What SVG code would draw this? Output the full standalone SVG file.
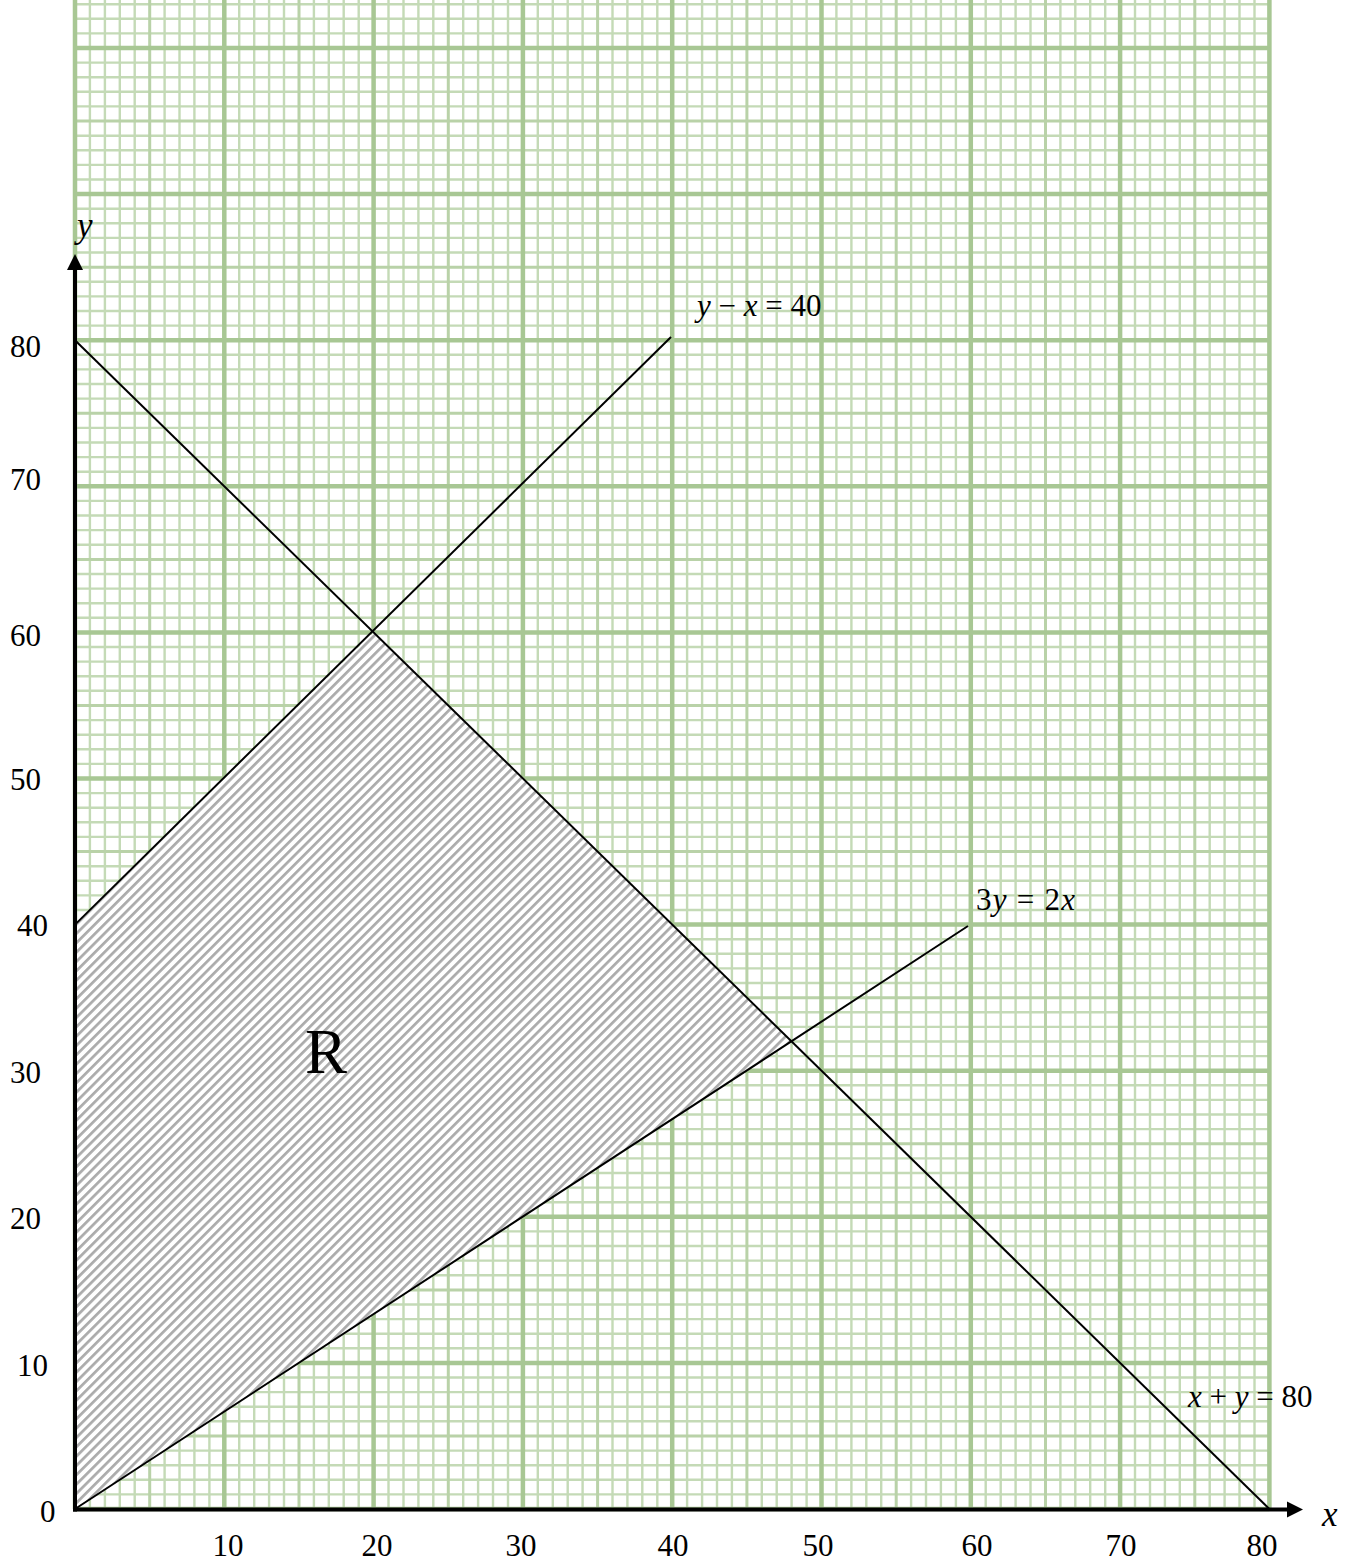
<svg xmlns="http://www.w3.org/2000/svg" width="1361" height="1564" viewBox="0 0 1361 1564">
<style>
.minor{stroke:#c4dab6;stroke-width:2.4;fill:none}
.medium{stroke:#b9d2a8;stroke-width:3;fill:none}
.major{stroke:#a8c794;stroke-width:4.5;fill:none}
.ln{stroke:#000;stroke-width:2;fill:none}
.ax{stroke:#000;stroke-width:4;fill:none}
.t{font-family:"Liberation Serif","Times New Roman",serif;font-size:31px;fill:#000}
.lab{font-family:"Liberation Serif","Times New Roman",serif;font-size:31px;fill:#000}
.v{font-family:"Liberation Serif","Times New Roman",serif;font-size:35px;font-style:italic;fill:#000}
.i{font-style:italic}
</style>
<defs>
<pattern id="hatch" patternUnits="userSpaceOnUse" width="6.6" height="10" patternTransform="rotate(45)">
<rect width="2.7" height="10" fill="#ababab"/>
</pattern>
</defs>
<rect width="1361" height="1564" fill="#fff"/>
<g id="grid">
<path class="minor" d="M89.9 0V1509M104.9 0V1509M119.8 0V1509M134.7 0V1509M164.6 0V1509M179.5 0V1509M194.4 0V1509M209.4 0V1509M239.2 0V1509M254.2 0V1509M269.1 0V1509M284 0V1509M313.9 0V1509M328.8 0V1509M343.7 0V1509M358.7 0V1509M388.5 0V1509M403.5 0V1509M418.4 0V1509M433.3 0V1509M463.2 0V1509M478.1 0V1509M493 0V1509M508 0V1509M537.8 0V1509M552.8 0V1509M567.7 0V1509M582.6 0V1509M612.5 0V1509M627.4 0V1509M642.3 0V1509M657.3 0V1509M687.1 0V1509M702.1 0V1509M717 0V1509M731.9 0V1509M761.8 0V1509M776.7 0V1509M791.6 0V1509M806.6 0V1509M836.4 0V1509M851.4 0V1509M866.3 0V1509M881.2 0V1509M911.1 0V1509M926 0V1509M940.9 0V1509M955.9 0V1509M985.7 0V1509M1000.7 0V1509M1015.6 0V1509M1030.5 0V1509M1060.4 0V1509M1075.3 0V1509M1090.2 0V1509M1105.2 0V1509M1135 0V1509M1150 0V1509M1164.9 0V1509M1179.8 0V1509M1209.7 0V1509M1224.6 0V1509M1239.5 0V1509M1254.5 0V1509"/>
<path class="minor" d="M75 1494.4H1269.4M75 1479.8H1269.4M75 1465.2H1269.4M75 1450.6H1269.4M75 1421.3H1269.4M75 1406.7H1269.4M75 1392.1H1269.4M75 1377.5H1269.4M75 1348.3H1269.4M75 1333.7H1269.4M75 1319.1H1269.4M75 1304.5H1269.4M75 1275.2H1269.4M75 1260.6H1269.4M75 1246H1269.4M75 1231.4H1269.4M75 1202.2H1269.4M75 1187.6H1269.4M75 1173H1269.4M75 1158.4H1269.4M75 1129.1H1269.4M75 1114.5H1269.4M75 1099.9H1269.4M75 1085.3H1269.4M75 1056.1H1269.4M75 1041.5H1269.4M75 1026.9H1269.4M75 1012.3H1269.4M75 983H1269.4M75 968.4H1269.4M75 953.8H1269.4M75 939.2H1269.4M75 910H1269.4M75 895.4H1269.4M75 880.8H1269.4M75 866.2H1269.4M75 836.9H1269.4M75 822.3H1269.4M75 807.7H1269.4M75 793.1H1269.4M75 763.9H1269.4M75 749.3H1269.4M75 734.7H1269.4M75 720.1H1269.4M75 690.8H1269.4M75 676.2H1269.4M75 661.6H1269.4M75 647H1269.4M75 617.8H1269.4M75 603.2H1269.4M75 588.6H1269.4M75 574H1269.4M75 544.7H1269.4M75 530.1H1269.4M75 515.5H1269.4M75 500.9H1269.4M75 471.7H1269.4M75 457.1H1269.4M75 442.5H1269.4M75 427.9H1269.4M75 398.6H1269.4M75 384H1269.4M75 369.4H1269.4M75 354.8H1269.4M75 325.6H1269.4M75 311H1269.4M75 296.4H1269.4M75 281.8H1269.4M75 252.5H1269.4M75 237.9H1269.4M75 223.3H1269.4M75 208.7H1269.4M75 179.5H1269.4M75 164.9H1269.4M75 150.3H1269.4M75 135.7H1269.4M75 106.4H1269.4M75 91.8H1269.4M75 77.2H1269.4M75 62.6H1269.4M75 33.4H1269.4M75 18.8H1269.4M75 4.2H1269.4"/>
<path class="medium" d="M149.7 0V1509M299 0V1509M448.3 0V1509M597.6 0V1509M746.9 0V1509M896.2 0V1509M1045.5 0V1509M1194.8 0V1509M75 1436H1269.4M75 1289.9H1269.4M75 1143.8H1269.4M75 997.7H1269.4M75 851.6H1269.4M75 705.5H1269.4M75 559.4H1269.4M75 413.3H1269.4M75 267.2H1269.4M75 121.1H1269.4"/>
<path class="major" d="M75 0V1509M224.3 0V1509M373.6 0V1509M522.9 0V1509M672.2 0V1509M821.5 0V1509M970.8 0V1509M1120.1 0V1509M1269.4 0V1509M75 1509H1269.4M75 1362.9H1269.4M75 1216.8H1269.4M75 1070.7H1269.4M75 924.6H1269.4M75 778.5H1269.4M75 632.4H1269.4M75 486.3H1269.4M75 340.2H1269.4M75 194.1H1269.4M75 48H1269.4"/>
</g>
<g id="region">
<polygon points="75,1509 75,924.6 373.6,632.4 791.6,1041.5" fill="#fff"/>
<polygon points="75,1509 75,924.6 373.6,632.4 791.6,1041.5" fill="url(#hatch)"/>
</g>
<g id="connectors">
<line class="ln" x1="75" y1="340.2" x2="1269.4" y2="1509"/>
<line class="ln" x1="75" y1="924.6" x2="671" y2="337"/>
<line class="ln" x1="75" y1="1509" x2="968" y2="926"/>
</g>
<g id="axes">
<line class="ax" x1="75" y1="1511.5" x2="75" y2="268"/>
<polygon points="75,254 67,270 83,270" fill="#000"/>
<line class="ax" x1="73" y1="1509.5" x2="1289" y2="1509.5"/>
<polygon points="1303,1509.5 1287,1501.5 1287,1517.5" fill="#000"/>
</g>
<g id="labels">
<text class="v" x="77" y="237">y</text>
<text class="v" x="1322" y="1526">x</text>
<text class="lab" x="697" y="316"><tspan class="i">y</tspan> − <tspan class="i">x</tspan> = 40</text>
<text class="lab" x="976" y="910" textLength="99" lengthAdjust="spacing">3<tspan class="i">y</tspan> = 2<tspan class="i">x</tspan></text>
<text class="lab" x="1188" y="1407"><tspan class="i">x</tspan> + <tspan class="i">y</tspan> = 80</text>
<text class="t" x="305" y="1073" style="font-size:63px">R</text>
<g class="t" text-anchor="middle">
<text x="228" y="1556">10</text>
<text x="377" y="1556">20</text>
<text x="521" y="1556">30</text>
<text x="673" y="1556">40</text>
<text x="818" y="1556">50</text>
<text x="977" y="1556">60</text>
<text x="1121" y="1556">70</text>
<text x="1262" y="1556">80</text>
</g>
<g class="t">
<text x="10" y="357">80</text>
<text x="10" y="490">70</text>
<text x="10" y="646">60</text>
<text x="10" y="790">50</text>
<text x="17" y="936">40</text>
<text x="10" y="1083">30</text>
<text x="10" y="1229">20</text>
<text x="17" y="1376">10</text>
<text x="40" y="1522">0</text>
</g>
</g>
</svg>
